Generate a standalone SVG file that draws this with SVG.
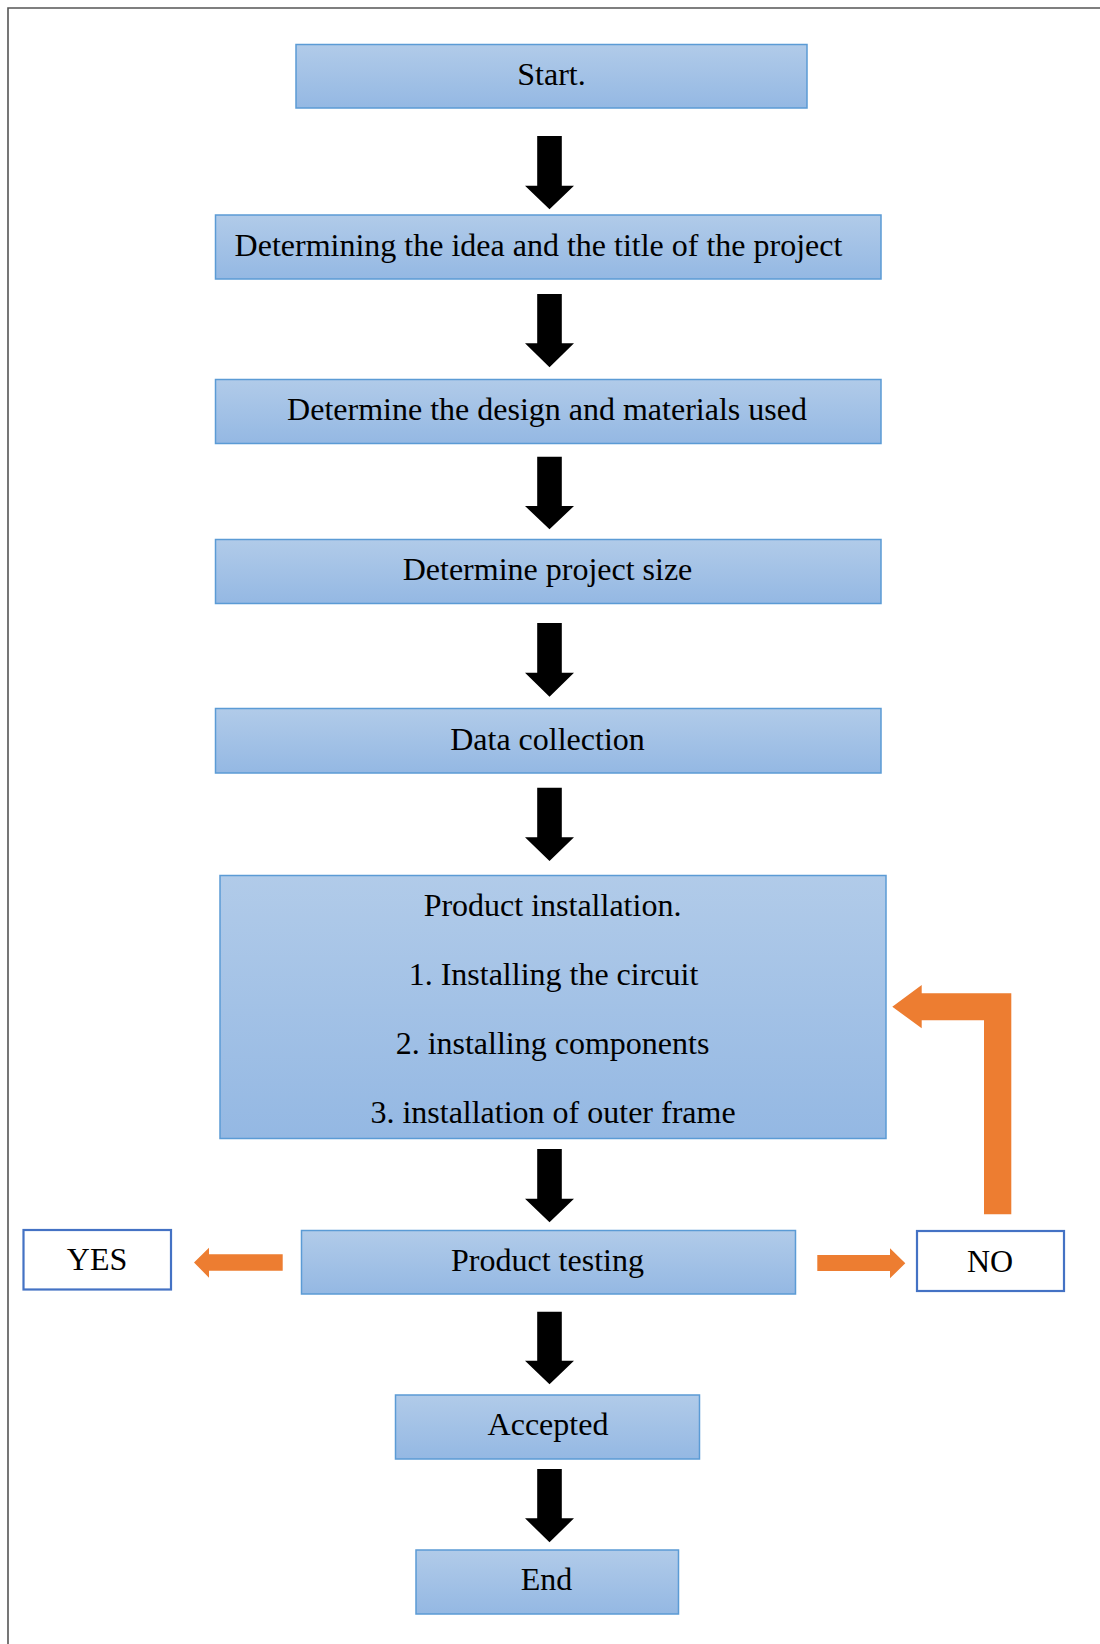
<svg xmlns="http://www.w3.org/2000/svg" width="1100" height="1644" viewBox="0 0 1100 1644">
  <defs>
    <linearGradient id="boxGrad" x1="0" y1="0" x2="0" y2="1">
      <stop offset="0" stop-color="#b1cbe9"/>
      <stop offset="1" stop-color="#94b8e3"/>
    </linearGradient>
    <style>
      .box { fill: url(#boxGrad); stroke: #5b9bd5; stroke-width: 1.5; }
      .out { fill: #ffffff; stroke: #4472c4; stroke-width: 2.2; }
      .t { font-family: "Liberation Serif", "Times New Roman", serif; font-size: 32px; fill: #000; text-anchor: middle; }
      .blk { fill: #000; }
      .org { fill: #ed7d31; }
      .frame { fill: none; stroke: #555; stroke-width: 1.6; }
    </style>
  </defs>
  <rect width="1100" height="1644" fill="#fff"/>
  <path class="frame" d="M8,1644 V8 H1100"/>

  <g id="n-start">
    <rect class="box" x="296" y="44.5" width="511" height="63.5"/>
    <text class="t" x="551.5" y="84.5">Start.</text>
  </g>
  <g id="n-idea">
    <rect class="box" x="215.5" y="215" width="665.5" height="64"/>
    <text class="t" x="538.5" y="255.5">Determining the idea and the title of the project</text>
  </g>
  <g id="n-design">
    <rect class="box" x="215.5" y="379.5" width="665.5" height="64"/>
    <text class="t" x="547" y="419.5">Determine the design and materials used</text>
  </g>
  <g id="n-size">
    <rect class="box" x="215.5" y="539.5" width="665.5" height="64"/>
    <text class="t" x="547.5" y="580">Determine project size</text>
  </g>
  <g id="n-data">
    <rect class="box" x="215.5" y="708.5" width="665.5" height="64.5"/>
    <text class="t" x="547.5" y="750">Data collection</text>
  </g>
  <g id="n-install">
    <rect class="box" x="220" y="875.5" width="666" height="263"/>
    <text class="t" x="552.5" y="915.5">Product installation.</text>
    <text class="t" x="553.5" y="984.5">1. Installing the circuit</text>
    <text class="t" x="552.5" y="1053.5">2. installing components</text>
    <text class="t" x="553" y="1122.5">3. installation of outer frame</text>
  </g>
  <g id="n-testing">
    <rect class="box" x="301.5" y="1230.5" width="494" height="63.5"/>
    <text class="t" x="547.5" y="1270.5">Product testing</text>
  </g>
  <g id="n-yes">
    <rect class="out" x="23.5" y="1230" width="147.5" height="59.5"/>
    <text class="t" x="97" y="1270">YES</text>
  </g>
  <g id="n-no">
    <rect class="out" x="917" y="1231" width="147" height="60"/>
    <text class="t" x="990" y="1272">NO</text>
  </g>
  <g id="n-accepted">
    <rect class="box" x="395.5" y="1395" width="304" height="64"/>
    <text class="t" x="548" y="1435">Accepted</text>
  </g>
  <g id="n-end">
    <rect class="box" x="416" y="1550" width="262.5" height="64"/>
    <text class="t" x="546.5" y="1590">End</text>
  </g>

  <g id="connectors">
    <path class="blk" d="M537.2,136 H561.8 V185.7 H574 L549.5,209.3 L525,185.7 H537.2 Z"/>
    <path class="blk" d="M537.2,294 H561.8 V343.3 H574 L549.5,367.3 L525,343.3 H537.2 Z"/>
    <path class="blk" d="M537.2,456.7 H561.8 V506 H574 L549.5,529.3 L525,506 H537.2 Z"/>
    <path class="blk" d="M537.2,623 H561.8 V672.7 H574 L549.5,696.7 L525,672.7 H537.2 Z"/>
    <path class="blk" d="M537.2,787.7 H561.8 V837.3 H574 L549.5,861 L525,837.3 H537.2 Z"/>
    <path class="blk" d="M537.2,1149 H561.8 V1198.7 H574 L549.5,1222.3 L525,1198.7 H537.2 Z"/>
    <path class="blk" d="M537.2,1311.7 H561.8 V1360.7 H574 L549.5,1384.3 L525,1360.7 H537.2 Z"/>
    <path class="blk" d="M537.2,1469 H561.8 V1518.3 H574 L549.5,1542.3 L525,1518.3 H537.2 Z"/>

    <path class="org" d="M282.7,1254.3 V1270.7 H209 V1277.7 L194,1262.5 L209,1247.7 V1254.3 Z"/>
    <path class="org" d="M817.3,1255 H890 V1248.3 L905.3,1263.3 L890,1278.3 V1271 H817.3 Z"/>
    <path class="org" d="M1011.3,1214.3 V993.3 H921.7 V985 L892.3,1006.7 L921.7,1028.3 V1020.3 H984 V1214.3 Z"/>
  </g>
</svg>
